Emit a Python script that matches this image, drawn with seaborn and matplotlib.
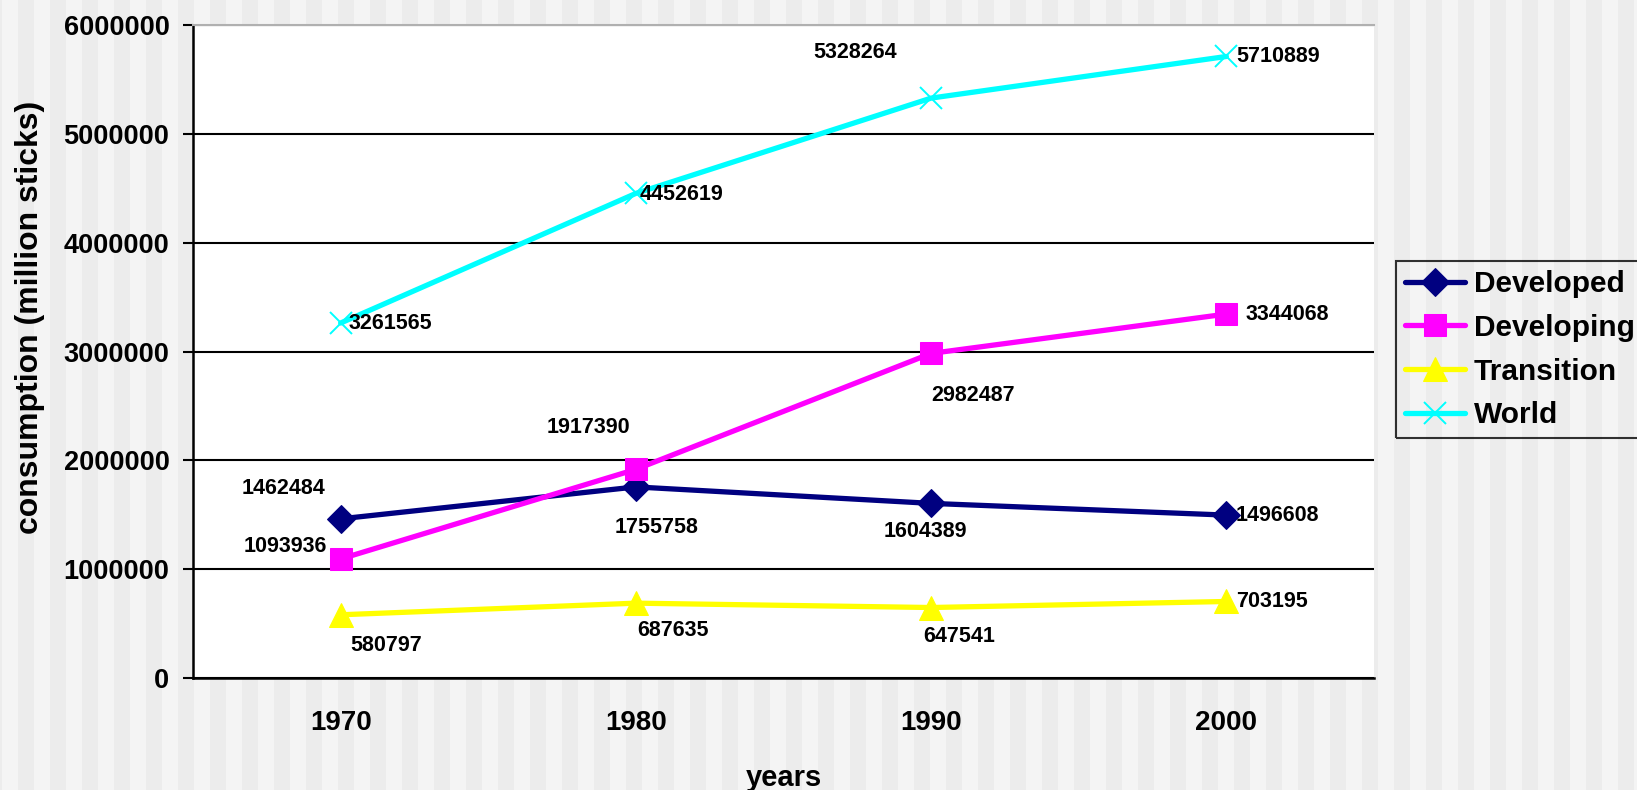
import matplotlib
matplotlib.use("Agg")
import matplotlib.pyplot as plt
import numpy as np
import pandas as pd
import seaborn as sns

# ─── Data ────────────────────────────────────────────────────────────────
years = ["1970", "1980", "1990", "2000"]
developed = [1462484, 1755758, 1604389, 1496608]
developing = [1093936, 1917390, 2982487, 3344068]
transition = [580797, 687635, 647541, 703195]
world = [3261565, 4452619, 5328264, 5710889]
y_ticks = [0, 1000000, 2000000, 3000000, 4000000, 5000000, 6000000]

series = {
    "Developed": developed,
    "Developing": developing,
    "Transition": transition,
    "World": world,
}

# ─── Styling ─────────────────────────────────────────────────────────────
STYLE = {
    "Developed": dict(color="#000080", marker="D", markersize=14),
    "Developing": dict(color="#ff00ff", marker="s", markersize=16),
    "Transition": dict(color="#ffff00", marker="^", markersize=17),
    "World": dict(color="#00ffff", marker="x", markersize=16, markeredgewidth=1.4),
}
# value-label offsets (points) relative to the data point
LABEL_OFFSETS = {
    "Developed": [(-71, 22), (-15, -29), (-34, -20), (7, 0)],
    "Developing": [(-70, 9), (-64, 30), (0, -30), (14, 0)],
    "Transition": [(7, -22), (1, -20), (-6, -21), (7, 0)],
    "World": [(6, 0), (3, -1), (-85, 33), (7, 0)],
}

W, H = 1637, 790
sns.set_theme(style="white")
plt.rcParams["font.family"] = ["Liberation Sans", "DejaVu Sans"]
plt.rcParams.update({
    "text.color": "black", "axes.labelcolor": "black",
    "xtick.color": "black", "ytick.color": "black",
})

fig = plt.figure(figsize=(W / 100, H / 100), dpi=100)

# striped slide background
bg = fig.add_axes([0, 0, 1, 1], zorder=-10)
bg.set_xlim(0, W)
bg.set_ylim(0, H)
bg.axis("off")
bg.add_patch(plt.Rectangle((0, 0), W, H, color="#f4f4f4", lw=0))
for x0 in range(18 - 32, W, 32):
    bg.axvspan(x0, x0 + 16, color="#ececec", lw=0)

left, right, top, bottom = 193, 1374, 25, 678
ax = fig.add_axes([left / W, 1 - bottom / H, (right - left) / W, (bottom - top) / H])
ax.set_facecolor("white")

pos = np.arange(len(years))
for name, vals in series.items():
    st = STYLE[name]
    sns.lineplot(
        x=pos, y=vals, ax=ax, label=name, linewidth=3.8,
        markeredgecolor=st["color"], **st,
    )
    for i, v in enumerate(vals):
        dx, dy = LABEL_OFFSETS[name][i]
        ax.annotate(
            f"{v}", (pos[i], v), xytext=(dx, dy), textcoords="offset points",
            ha="left", va="center", fontsize=15.5, fontweight="bold", color="black",
        )

ax.set_xlim(-0.5, len(years) - 0.5)
ax.set_ylim(0, 6000000)
ax.set_yticks(y_ticks)
ax.set_yticklabels([str(t) for t in y_ticks], fontsize=19.5, fontweight="bold")
ax.yaxis.grid(True, color="black", lw=1.5)
ax.set_axisbelow(True)

ax.set_xticks(np.arange(len(years) + 1) - 0.5)
ax.set_xticklabels([])
ax.set_xticks(pos, minor=True)
ax.set_xticklabels(years, minor=True, fontsize=20, fontweight="bold")
ax.tick_params(axis="x", which="major", direction="out", length=7, width=1.5, color="black")
ax.tick_params(axis="x", which="minor", length=0, pad=23)
ax.tick_params(axis="y", direction="out", length=7, width=1.5, color="black", pad=10, left=True)

for s in ["left", "bottom"]:
    ax.spines[s].set_color("black")
    ax.spines[s].set_linewidth(1.8)
ax.spines["right"].set_visible(False)
ax.spines["top"].set_color("#b0b0b0")
ax.spines["top"].set_linewidth(1.5)

ax.set_ylabel("consumption (million sticks)", fontsize=23, fontweight="bold")
ax.yaxis.set_label_coords(-0.125, 0.553)
ax.set_xlabel("years", fontsize=21, fontweight="bold")
ax.xaxis.set_label_coords(0.5, -0.132)

leg = ax.legend(
    loc="upper left", bbox_to_anchor=(1396 / W, 1 - 261 / H), bbox_transform=fig.transFigure,
    borderaxespad=0, frameon=True, fancybox=False, facecolor="none", edgecolor="black",
    prop=dict(size=21.5, weight="bold"), handlelength=2.0, handletextpad=0.3,
    labelspacing=0.53, borderpad=0.3,
)
leg.get_frame().set_linewidth(1.5)

fig.savefig("out.png", dpi=100)
